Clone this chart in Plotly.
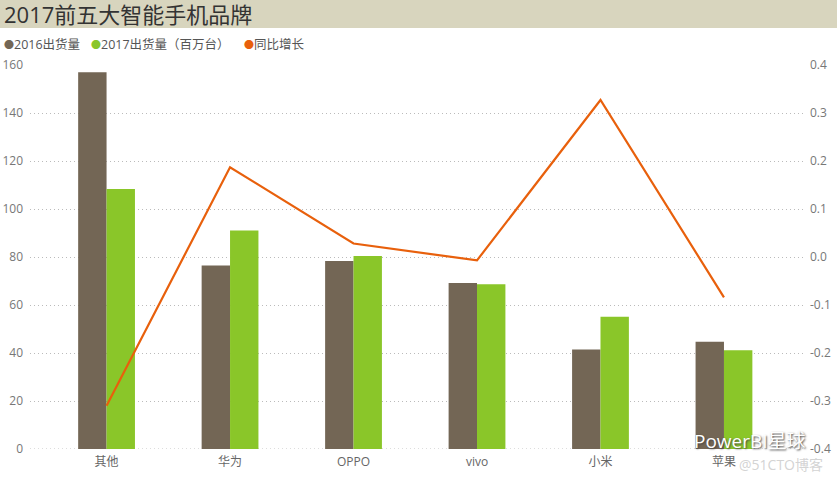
import plotly.graph_objects as go

brands = ["其他", "华为", "OPPO", "vivo", "小米", "苹果"]
ship_2016 = [157.0, 76.5, 78.3, 69.2, 41.5, 44.7]
ship_2017 = [108.3, 91.0, 80.4, 68.6, 55.1, 41.1]
growth = [-0.31, 0.187, 0.028, -0.007, 0.327, -0.084]

left_ticks = [0, 20, 40, 60, 80, 100, 120, 140, 160]
right_tickvals = [-0.4, -0.3, -0.2, -0.1, 0.0, 0.1, 0.2, 0.3, 0.4]
right_ticktext = ["-0.4", "-0.3", "-0.2", "-0.1", "0.0", "0.1", "0.2", "0.3", "0.4"]

title_text = "2017前五大智能手机品牌"
legend_names = ["2016出货量", "2017出货量（百万台）", "同比增长"]

C_BROWN = "#736655"
C_GREEN = "#8AC629"
C_ORANGE = "#E8600C"
FONT = "Segoe UI, Open Sans, Noto Sans CJK SC, sans-serif"

W, H = 837, 477
ML, MR, MT, MB = 30, 34, 65, 28
PW, PH = W - ML - MR, H - MT - MB

def px_x(x):
    return (x - ML) / PW

def px_y(y):
    return (H - MB - y) / PH

fig = go.Figure()
fig.add_trace(go.Bar(x=brands, y=ship_2016, name=legend_names[0],
                     marker=dict(color=C_BROWN, line=dict(width=0)), showlegend=False))
fig.add_trace(go.Bar(x=brands, y=ship_2017, name=legend_names[1],
                     marker=dict(color=C_GREEN, line=dict(width=0)), showlegend=False))
fig.add_trace(go.Scatter(x=brands, y=growth, name=legend_names[2], yaxis="y2",
                         mode="lines", line=dict(color=C_ORANGE, width=2.2),
                         showlegend=False))

def legend_item(color, label, xpx):
    return dict(text=f"<span style='color:{color};font-size:10px'>●</span>{label}",
                x=px_x(xpx), y=px_y(44), xref="paper", yref="paper",
                xanchor="left", yanchor="middle", showarrow=False,
                font=dict(family=FONT, size=12.5, color="#555555"))

annotations = [
    dict(text=title_text, x=px_x(2), y=px_y(14), xref="paper", yref="paper",
         xanchor="left", yanchor="middle", showarrow=False,
         font=dict(family=FONT, size=22, color="#333333")),
    legend_item(C_BROWN, legend_names[0], 2),
    legend_item(C_GREEN, legend_names[1], 89),
    legend_item(C_ORANGE, legend_names[2], 242),
    dict(text="PowerBI星球", x=px_x(692), y=px_y(441), xref="paper", yref="paper",
         xanchor="left", yanchor="middle", showarrow=False,
         font=dict(family=FONT, size=19, color="#ffffff", shadow="1px 1px 2px #444")),
    dict(text="@51CTO博客", x=px_x(737), y=px_y(464), xref="paper", yref="paper",
         xanchor="left", yanchor="middle", showarrow=False,
         font=dict(family=FONT, size=14, color="rgba(200,200,200,0.8)")),
]

shapes = [
    dict(type="rect", xref="paper", yref="paper",
         x0=px_x(0), x1=px_x(W), y0=px_y(28), y1=px_y(0),
         fillcolor="#D8D5BE", line=dict(width=0), layer="below"),
    dict(type="line", xref="paper", yref="y", x0=0, x1=1, y0=0, y1=0,
         line=dict(color="#BBBBBB", width=1, dash="1px,3px"), layer="below"),
]

fig.update_layout(
    width=W, height=H,
    margin=dict(l=ML, r=MR, t=MT, b=MB, pad=0, autoexpand=False),
    paper_bgcolor="white", plot_bgcolor="white",
    barmode="group", bargap=0.54, bargroupgap=0,
    showlegend=False,
    font=dict(family=FONT, size=12, color="#777777"),
    xaxis=dict(range=[-0.62, 5.64], showgrid=False, zeroline=False, showline=False,
               automargin=False, ticks="", ticklabelstandoff=4,
               tickfont=dict(size=12, color="#666666")),
    yaxis=dict(range=[0, 160], tickvals=left_ticks, showgrid=True, automargin=False,
               gridcolor="#BBBBBB", griddash="1px,3px", gridwidth=1,
               zeroline=False, showline=False, ticks="", ticklabelstandoff=6,
               tickfont=dict(size=12, color="#777777")),
    yaxis2=dict(range=[-0.4, 0.4], tickvals=right_tickvals, ticktext=right_ticktext,
                overlaying="y", side="right", showgrid=False, zeroline=False,
                automargin=False, showline=False, ticks="", ticklabelstandoff=6,
                tickfont=dict(size=12, color="#777777")),
    annotations=annotations,
    shapes=shapes,
)

fig.write_html(
    "out.html",
    config={"displayModeBar": False},
    post_script="document.body.style.margin='0';document.body.style.overflow='hidden';",
)
